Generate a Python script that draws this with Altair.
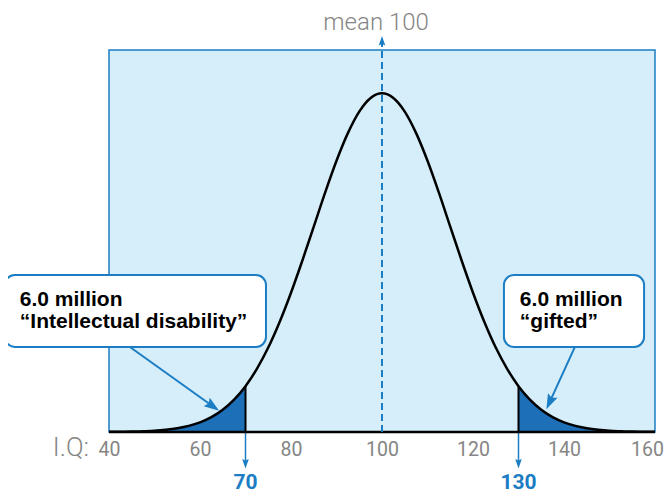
import altair as alt
import pandas as pd

# ---------------- data ----------------
iq_points = [40, 42.5, 45, 47.5, 50, 52.5, 55, 57.5, 60, 62.5, 65, 67.5, 70,
             72.5, 75, 77.5, 80, 82.5, 85, 87.5, 90, 92.5, 95, 97.5, 100,
             102.5, 105, 107.5, 110, 112.5, 115, 117.5, 120, 122.5, 125, 127.5,
             130, 132.5, 135, 137.5, 140, 142.5, 145, 147.5, 150, 152.5, 155,
             157.5, 160]
density_pct = [0.001, 0.002, 0.003, 0.006, 0.010, 0.018, 0.030, 0.048, 0.076,
               0.117, 0.175, 0.254, 0.360, 0.496, 0.663, 0.864, 1.094, 1.347,
               1.613, 1.880, 2.130, 2.347, 2.516, 2.623, 2.660,
               2.623, 2.516, 2.347, 2.130, 1.880, 1.613, 1.347, 1.094, 0.864,
               0.663, 0.496, 0.360, 0.254, 0.175, 0.117, 0.076, 0.048, 0.030,
               0.018, 0.010, 0.006, 0.003, 0.002, 0.001]

tick_values = [40, 60, 80, 100, 120, 140, 160]
mean_iq = [100]
mean_label = ["mean 100"]
cut_iq = [70, 130]
cut_height = [0.360, 0.360]
cut_labels = ["70", "130"]
callout_line1 = ["6.0 million", "6.0 million"]
callout_line2 = ["\u201cIntellectual disability\u201d", "\u201cgifted\u201d"]
axis_title = ["I.Q:"]

# annotation anchors (in IQ / density units)
y_top = 3.0
box_x = [17.1, 126.8]
box_x2 = [74.5, 157.6]
box_y = [1.233, 1.233]
box_y2 = [0.668, 0.668]
text_x = [20.4, 130.3]
text_y1 = [0.99, 0.99]
text_y2 = [0.817, 0.817]
arrow_x = [44.6, 142.4]
arrow_y = [0.668, 0.668]
arrow_hx = [62.5, 137.0]
arrow_hy = [0.210, 0.246]
arrow_ang = [125.6, 204.6]

BLUE = "#1b7dc3"
FILL = "#1d6fb7"
BG = "#d5eefa"
GRAY = "#858585"
HEAD = "M0,-1L0.55,0.6L0,0.35L-0.55,0.6Z"

curve_df = pd.DataFrame({"iq": iq_points, "density": density_pct})
bg_df = pd.DataFrame({"x0": [min(tick_values)], "x1": [max(tick_values)], "y0": [0], "y1": [y_top]})
cut_df = pd.DataFrame({"iq": cut_iq, "h": cut_height, "label": cut_labels,
                       "z": [0, 0], "tip": [-0.24, -0.24], "ly": [-0.448, -0.448]})
mean_df = pd.DataFrame({"iq": mean_iq, "z": [0], "top": [3.063], "label": mean_label,
                        "lx": [98.7], "ly": [3.157]})
box_df = pd.DataFrame({"x": box_x, "x2": box_x2, "y": box_y, "y2": box_y2,
                       "tx": text_x, "ty1": text_y1, "ty2": text_y2,
                       "l1": callout_line1, "l2": callout_line2,
                       "ax": arrow_x, "ay": arrow_y, "hx": arrow_hx, "hy": arrow_hy,
                       "ang": arrow_ang})
iq_df = pd.DataFrame({"x": [35.6], "y": [-0.19], "t": axis_title})

xs = alt.Scale(domain=[min(tick_values), max(tick_values)], nice=False, zero=False)
ys = alt.Scale(domain=[0, y_top], nice=False, zero=True)
xaxis = alt.Axis(values=tick_values, labelFontSize=19.5, labelColor=GRAY,
                 labelFont="Roboto", domain=False, ticks=False,
                 grid=False, labelPadding=8, title=None, labelFlush=False,
                 labelOverlap=False,
                 labelOffset=alt.ExprRef(expr="datum.value >= 160 ? -8 : 0"))


def X(f):
    return alt.X(f, type="quantitative", scale=xs, axis=xaxis, title=None)


def Y(f):
    return alt.Y(f, type="quantitative", scale=ys, axis=None, title=None)


bg = alt.Chart(bg_df).mark_rect(fill=BG, stroke=BLUE, strokeWidth=1.5).encode(
    x=X("x0"), x2="x1", y=Y("y0"), y2="y1")

tail_lo = alt.Chart(curve_df).transform_filter("datum.iq <= 70").mark_area(
    color=FILL, interpolate="monotone").encode(x=X("iq"), y=Y("density"))
tail_hi = alt.Chart(curve_df).transform_filter("datum.iq >= 130").mark_area(
    color=FILL, interpolate="monotone").encode(x=X("iq"), y=Y("density"))

curve = alt.Chart(curve_df).mark_line(color="black", strokeWidth=2.5,
                                      interpolate="monotone").encode(
    x=X("iq"), y=Y("density"))

cut_black = alt.Chart(cut_df).mark_rule(color="black", strokeWidth=2).encode(
    x=X("iq"), y=Y("z"), y2="h")
cut_blue = alt.Chart(cut_df).mark_rule(color=BLUE, strokeWidth=1.5).encode(
    x=X("iq"), y=Y("z"), y2="tip")
cut_head = alt.Chart(cut_df).mark_point(shape=HEAD, filled=True, size=144, color=BLUE,
                                        opacity=1, angle=180, strokeWidth=0).encode(
    x=X("iq"), y=Y("tip"))
cut_text = alt.Chart(cut_df).mark_text(font="Roboto", fontSize=21,
                                       fontWeight="bold", color=BLUE, baseline="alphabetic",
                                       align="center").encode(
    x=X("iq"), y=Y("ly"), text="label")

baseline = alt.Chart(bg_df).mark_rule(color="black", strokeWidth=2.5).encode(
    x=X("x0"), x2="x1", y=Y("y0"))

mean_line = alt.Chart(mean_df).mark_rule(color=BLUE, strokeWidth=2, strokeDash=[7, 4]).encode(
    x=X("iq"), y=Y("z"), y2="top")
mean_head = alt.Chart(mean_df).mark_point(shape=HEAD, filled=True, size=144, color=BLUE,
                                          opacity=1, strokeWidth=0).encode(
    x=X("iq"), y=Y("top"))
mean_text = alt.Chart(mean_df).mark_text(font="Roboto", fontWeight=300, fontSize=24,
                                         color=GRAY, baseline="alphabetic").encode(
    x=X("lx"), y=Y("ly"), text="label")

arrows = alt.Chart(box_df).mark_rule(color=BLUE, strokeWidth=2).encode(
    x=X("ax"), y=Y("ay"), x2="hx", y2="hy")
arrow_heads = alt.Chart(box_df).mark_point(shape=HEAD, filled=True, size=361, color=BLUE,
                                           opacity=1, strokeWidth=0).encode(
    x=X("hx"), y=Y("hy"), angle=alt.Angle("ang:Q", scale=None))

boxes = alt.Chart(box_df).mark_rect(fill="white", stroke=BLUE, strokeWidth=2,
                                    cornerRadius=10).encode(
    x=X("x"), x2="x2", y=Y("y"), y2="y2")
t1 = alt.Chart(box_df).mark_text(font="Liberation Sans", fontWeight="bold", fontSize=21,
                                 color="black", align="left", baseline="alphabetic").encode(
    x=X("tx"), y=Y("ty1"), text="l1")
t2 = alt.Chart(box_df).mark_text(font="Liberation Sans", fontWeight="bold", fontSize=21,
                                 color="black", align="left", baseline="alphabetic").encode(
    x=X("tx"), y=Y("ty2"), text="l2")

iq_text = alt.Chart(iq_df).mark_text(font="Roboto", fontWeight=300, fontSize=26, color=GRAY,
                                     align="right", baseline="alphabetic").encode(
    x=X("x"), y=Y("y"), text="t")

chart = alt.layer(
    bg, tail_lo, tail_hi, curve, cut_black, cut_blue, cut_head, cut_text, baseline,
    mean_line, mean_head, mean_text, arrows, arrow_heads, boxes, t1, t2, iq_text
).properties(
    width=546, height=382,
    autosize=alt.AutoSizeParams(type="none"),
    padding={"left": 101, "top": 42, "right": 9, "bottom": 62},
    background="white",
).configure_view(stroke=None)

chart.save("out.html", embed_options={"renderer": "svg", "actions": False})
